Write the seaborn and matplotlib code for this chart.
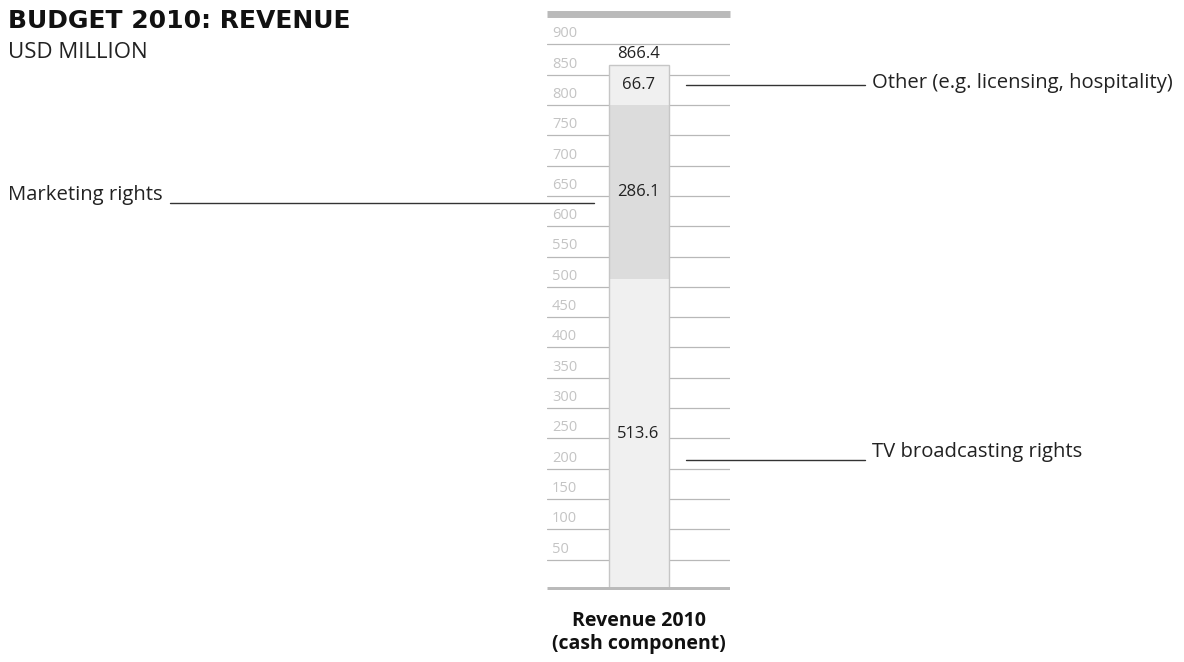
import matplotlib
matplotlib.use("Agg")
import matplotlib.pyplot as plt
from matplotlib.lines import Line2D
import seaborn as sns
import pandas as pd
import numpy as np

# ---- data ----
category = ["Revenue 2010\n(cash component)"]
segments = ["TV broadcasting rights", "Marketing rights", "Other (e.g. licensing, hospitality)"]
values = [513.6, 286.1, 66.7]
seg_colors = ["#f0f0f0", "#dcdcdc", "#f0f0f0"]
total = 866.4
yticks = [50, 100, 150, 200, 250, 300, 350, 400, 450, 500, 550, 600, 650, 700, 750, 800, 850, 900]
ymax = 950

sns.set_theme(style="white")
plt.rcParams['font.family'] = ['Open Sans', 'DejaVu Sans']

W, H = 1184, 662
fig = plt.figure(figsize=(W / 100, H / 100), dpi=100)

def fx(px):
    return px / W

def fy(py):
    return 1 - py / H

ax_left, ax_right, ax_top, ax_bot = 547, 730, 14, 590
ax = fig.add_axes([fx(ax_left), fy(ax_bot), fx(ax_right - ax_left), (ax_bot - ax_top) / H])

# gridlines and tick labels
for t in yticks:
    ax.axhline(t, color="#b8b8b8", lw=0.9, zorder=1)
    ax.text(0.027, t + 5, str(t), transform=ax.get_yaxis_transform(), ha="left", va="bottom",
            fontsize=10.5, color="#c4c4c4", zorder=1)

# stacked bars via cumulative sums, drawn top-down
cum = np.cumsum(values)
bar_w = 60 / (ax_right - ax_left)
for i in range(len(values) - 1, -1, -1):
    df = pd.DataFrame({"cat": category, "val": [cum[i]]})
    sns.barplot(data=df, x="cat", y="val", color=seg_colors[i], saturation=1,
                width=bar_w, ax=ax, zorder=2, linewidth=0, edgecolor="none")

# outline of the full bar
df_tot = pd.DataFrame({"cat": category, "val": [total]})
sns.barplot(data=df_tot, x="cat", y="val", fill=False, color="#c6c6c6", width=bar_w,
            ax=ax, zorder=3, linewidth=1.0)
for p in ax.patches[-1:]:
    p.set_edgecolor("#c6c6c6")
    p.set_facecolor("none")

ax.set_xlim(-0.5, 0.5)
ax.set_ylim(0, ymax)
ax.axhline(0, color="#bababa", lw=5, zorder=4, solid_capstyle="butt")
ax.axhline(ymax, color="#bababa", lw=5, zorder=4, clip_on=False, solid_capstyle="butt")
for s in ax.spines.values():
    s.set_visible(False)
ax.set_yticks([])
ax.set_xticks([])
ax.set_ylabel("")
ax.set_xlabel("")

# value labels
starts = np.concatenate([[0], cum[:-1]])
for v, s0 in zip(values, starts):
    ax.text(0, s0 + v / 2, f"{v:.1f}", ha="center", va="center", fontsize=12, color="#222222", zorder=5)
ax.text(0, total + 5, f"{total:.1f}", ha="center", va="bottom", fontsize=12, color="#222222", zorder=5)

# category label
fig.text(fx(639), fy(632), category[0], ha="center", va="center", fontsize=14,
         fontweight="bold", color="#111111", linespacing=1.2)

# titles
fig.text(fx(8), fy(21), "BUDGET 2010: REVENUE", ha="left", va="center", fontsize=18,
         fontweight="bold", color="#111111", family=["DejaVu Sans"])
fig.text(fx(8), fy(53), "USD MILLION", ha="left", va="center", fontsize=16, color="#222222")

# leader lines
def leader(x0, x1, y):
    fig.add_artist(Line2D([fx(x0), fx(x1)], [fy(y), fy(y)], color="#333333", lw=1.0))

leader(686, 865, 85)
fig.text(fx(872), fy(83), segments[2], ha="left", va="center", fontsize=14.6, color="#222222")
leader(686, 865, 460)
fig.text(fx(872), fy(452), segments[0], ha="left", va="center", fontsize=14.6, color="#222222")
leader(170, 594, 203)
fig.text(fx(8), fy(195), segments[1], ha="left", va="center", fontsize=14.6, color="#222222")

fig.savefig("out.png", dpi=100, facecolor="white")
